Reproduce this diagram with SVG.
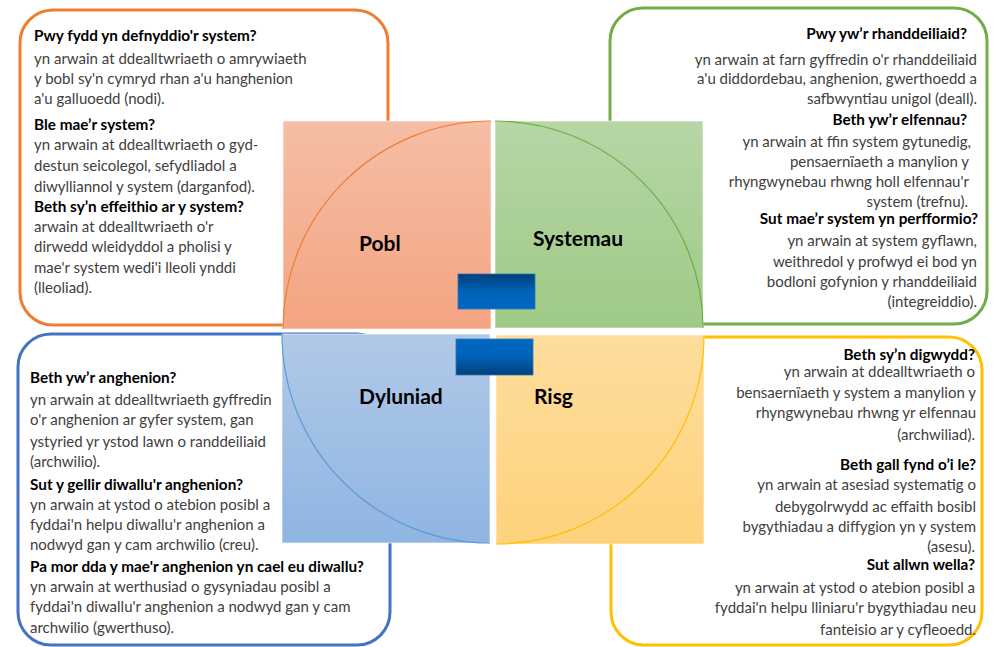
<svg xmlns="http://www.w3.org/2000/svg" width="993" height="647" viewBox="0 0 993 647">
<style>
.box{fill:#fff;stroke-width:3}
.t{font-family:Lato,"Liberation Sans",sans-serif;font-size:15px;fill:#404040}
.h{font-family:Lato,"Liberation Sans",sans-serif;font-size:15.3px;font-weight:bold;fill:#000}
.r{text-anchor:end}
.lbl{font-family:Lato,"Liberation Sans",sans-serif;font-size:21px;font-weight:bold;fill:#000}
.sq{stroke:#fff;stroke-opacity:0.6;stroke-width:1}
.arc{fill:none;stroke-width:1.2}
</style>
<defs>
<linearGradient id="gO" x1="0" y1="0" x2="0" y2="1"><stop offset="0" stop-color="#F5BEA5"/><stop offset="1" stop-color="#F4A482"/></linearGradient>
<linearGradient id="gG" x1="0" y1="0" x2="0" y2="1"><stop offset="0" stop-color="#B6D6A6"/><stop offset="1" stop-color="#9FCA86"/></linearGradient>
<linearGradient id="gB" x1="0" y1="0" x2="0" y2="1"><stop offset="0" stop-color="#B1C9E8"/><stop offset="1" stop-color="#8FB5E2"/></linearGradient>
<linearGradient id="gY" x1="0" y1="0" x2="0" y2="1"><stop offset="0" stop-color="#FEDD9D"/><stop offset="1" stop-color="#FDD27B"/></linearGradient>
<linearGradient id="gBar1" x1="0" y1="0" x2="0" y2="1"><stop offset="0" stop-color="#003F7A"/><stop offset="0.5" stop-color="#0062B6"/><stop offset="1" stop-color="#0068C2"/></linearGradient>
<linearGradient id="gBar2" x1="0" y1="0" x2="0" y2="1"><stop offset="0" stop-color="#0068C2"/><stop offset="0.5" stop-color="#0062B6"/><stop offset="1" stop-color="#003F7A"/></linearGradient>
</defs>

<g id="box-pobl">
<rect class="box" x="20" y="10" width="368" height="315" rx="33" stroke="#ED7D31"/>
<text class="h" x="34" y="41">Pwy fydd yn defnyddio'r system?</text>
<text class="t" x="34" y="64">yn arwain at ddealltwriaeth o amrywiaeth</text>
<text class="t" x="34" y="84">y bobl sy'n cymryd rhan a'u hanghenion</text>
<text class="t" x="34" y="104">a'u galluoedd (nodi).</text>
<text class="h" x="34" y="130">Ble mae’r system?</text>
<text class="t" x="34" y="150">yn arwain at ddealltwriaeth o gyd-</text>
<text class="t" x="34" y="171">destun seicolegol, sefydliadol a</text>
<text class="t" x="34" y="192">diwylliannol y system (darganfod).</text>
<text class="h" x="34" y="212">Beth sy’n effeithio ar y system?</text>
<text class="t" x="34" y="232">arwain at ddealltwriaeth o'r</text>
<text class="t" x="34" y="252">dirwedd wleidyddol a pholisi y</text>
<text class="t" x="34" y="273">mae'r system wedi'i lleoli ynddi</text>
<text class="t" x="34" y="293">(lleoliad).</text>
</g>

<g id="box-systemau">
<rect class="box" x="610" y="8" width="377" height="316" rx="33" stroke="#70AD47"/>
<text class="h r" x="967" y="39">Pwy yw’r rhanddeiliaid?</text>
<text class="t r" x="977" y="65">yn arwain at farn gyffredin o'r rhanddeiliaid</text>
<text class="t r" x="977" y="84">a'u diddordebau, anghenion, gwerthoedd a</text>
<text class="t r" x="977" y="104">safbwyntiau unigol (deall).</text>
<text class="h r" x="967" y="125">Beth yw’r elfennau?</text>
<text class="t r" x="971" y="147">yn arwain at ffin system gytunedig,</text>
<text class="t r" x="969" y="167">pensaernïaeth a manylion y</text>
<text class="t r" x="969" y="187">rhyngwynebau rhwng holl elfennau'r</text>
<text class="t r" x="968" y="207">system (trefnu).</text>
<text class="h r" x="978" y="224">Sut mae’r system yn perfformio?</text>
<text class="t r" x="977" y="246">yn arwain at system gyflawn,</text>
<text class="t r" x="977" y="267">weithredol y profwyd ei bod yn</text>
<text class="t r" x="977" y="287">bodloni gofynion y rhanddeiliaid</text>
<text class="t r" x="977" y="307">(integreiddio).</text>
</g>

<g id="box-dyluniad">
<rect class="box" x="18" y="334" width="372" height="311" rx="33" stroke="#4472C4"/>
<text class="h" x="30" y="383">Beth yw’r anghenion?</text>
<text class="t" x="30" y="405">yn arwain at ddealltwriaeth gyffredin</text>
<text class="t" x="30" y="425">o'r anghenion ar gyfer system, gan</text>
<text class="t" x="30" y="447">ystyried yr ystod lawn o randdeiliaid</text>
<text class="t" x="30" y="467">(archwilio).</text>
<text class="h" x="30" y="490">Sut y gellir diwallu'r anghenion?</text>
<text class="t" x="30" y="510">yn arwain at ystod o atebion posibl a</text>
<text class="t" x="30" y="530">fyddai'n helpu diwallu'r anghenion a</text>
<text class="t" x="30" y="550">nodwyd gan y cam archwilio (creu).</text>
<text class="h" x="30" y="572">Pa mor dda y mae'r anghenion yn cael eu diwallu?</text>
<text class="t" x="30" y="592">yn arwain at werthusiad o gysyniadau posibl a</text>
<text class="t" x="30" y="612">fyddai'n diwallu'r anghenion a nodwyd gan y cam</text>
<text class="t" x="30" y="633">archwilio (gwerthuso).</text>
</g>

<g id="box-risg">
<rect class="box" x="611" y="337" width="371" height="308" rx="33" stroke="#FFC000"/>
<text class="h r" x="975" y="360">Beth sy’n digwydd?</text>
<text class="t r" x="975" y="377">yn arwain at ddealltwriaeth o</text>
<text class="t r" x="976" y="398">bensaernïaeth y system a manylion y</text>
<text class="t r" x="976" y="418">rhyngwynebau rhwng yr elfennau</text>
<text class="t r" x="975" y="440">(archwiliad).</text>
<text class="h r" x="976" y="470">Beth gall fynd o’i le?</text>
<text class="t r" x="976" y="490">yn arwain at asesiad systematig o</text>
<text class="t r" x="976" y="512">debygolrwydd ac effaith bosibl</text>
<text class="t r" x="976" y="532">bygythiadau a diffygion yn y system</text>
<text class="t r" x="975" y="552">(asesu).</text>
<text class="h r" x="975" y="570">Sut allwn wella?</text>
<text class="t r" x="975" y="593">yn arwain at ystod o atebion posibl a</text>
<text class="t r" x="976" y="613">fyddai'n helpu lliniaru'r bygythiadau neu</text>
<text class="t r" x="976" y="635">fanteisio ar y cyfleoedd.</text>
</g>

<g id="quad-pobl">
<rect class="sq" x="283" y="121" width="208" height="208" fill="url(#gO)"/>
<path class="arc" d="M491 121 A208 208 0 0 0 283 329" stroke="#ED7D31"/>
<text class="lbl" x="359" y="251">Pobl</text>
</g>
<g id="quad-systemau">
<rect class="sq" x="495" y="121" width="208" height="207" fill="url(#gG)"/>
<path class="arc" d="M495 121 A208 207 0 0 1 703 328" stroke="#70AD47"/>
<text class="lbl" x="533" y="246">Systemau</text>
</g>
<g id="quad-dyluniad">
<rect class="sq" x="282" y="334" width="208" height="209" fill="url(#gB)"/>
<path class="arc" d="M282 334 A208 209 0 0 0 490 543" stroke="#5B9BD5"/>
<text class="lbl" x="359" y="404">Dyluniad</text>
</g>
<g id="quad-risg">
<rect class="sq" x="496" y="335" width="208" height="209" fill="url(#gY)"/>
<path class="arc" d="M704 335 A208 209 0 0 1 496 544" stroke="#FFC000"/>
<text class="lbl" x="534" y="404">Risg</text>
</g>

<g id="connectors">
<rect x="458" y="274" width="77" height="35" fill="url(#gBar1)" stroke="#2E75B6" stroke-width="0.8"/>
<rect x="456" y="339" width="77" height="36" fill="url(#gBar2)" stroke="#2E75B6" stroke-width="0.8"/>
</g>
</svg>
